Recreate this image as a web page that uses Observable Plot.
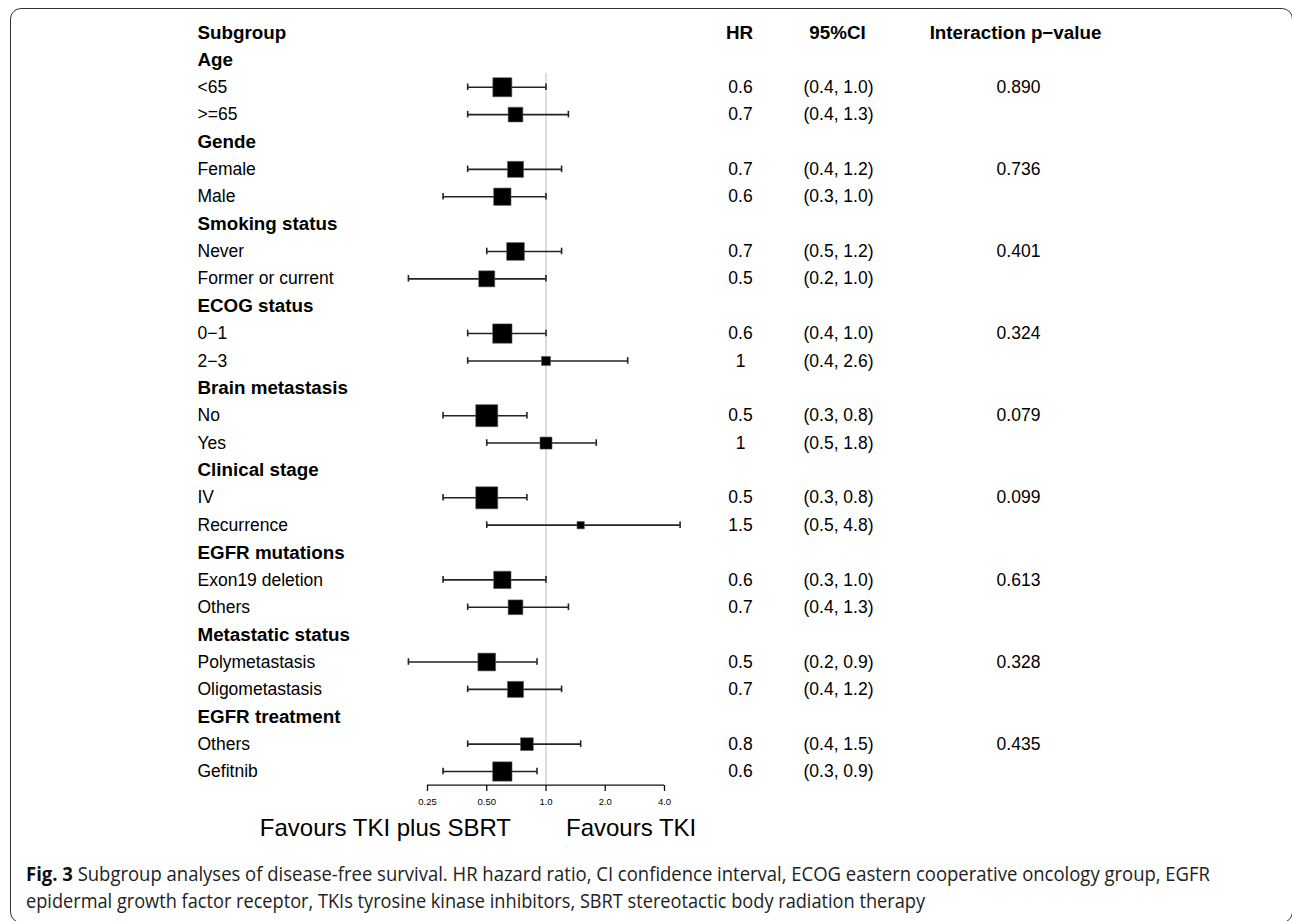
<!DOCTYPE html>
<html>
<head>
<meta charset="utf-8">
<script src="https://cdn.jsdelivr.net/npm/d3@7"></script>
<script src="https://cdn.jsdelivr.net/npm/@observablehq/plot@0.6"></script>
<style>
  html, body { margin: 0; padding: 0; background: #fff; }
  #page { position: relative; width: 1292px; height: 921px; overflow: hidden; background: #fff; }
  #chart { position: absolute; left: 0; top: 0; }
  #border { position: absolute; left: 10px; top: 8px; width: 1281px; height: 913px;
            border: 1.5px solid #333; border-radius: 11px; pointer-events: none; }
  #caption { position: absolute; left: 26px; top: 860px; font-family: "Open Sans", sans-serif;
             font-size: 20px; line-height: 27px; color: #222; }
  #caption .line { display: block; white-space: nowrap; transform-origin: 0 0; width: max-content; }
  #caption b { font-weight: 700; color: #111; }
</style>
</head>
<body>
<div id="page">
  <div id="chart"></div>
  <div id="border"></div>
  <div id="caption">
    <span class="line" id="cap1"><b>Fig. 3</b> Subgroup analyses of disease-free survival. HR hazard ratio, CI confidence interval, ECOG eastern cooperative oncology group, EGFR</span>
    <span class="line" id="cap2">epidermal growth factor receptor, TKIs tyrosine kinase inhibitors, SBRT stereotactic body radiation therapy</span>
  </div>
</div>
<script>
// ---- Data ----
const groups = ["Age", "Gende", "Smoking status", "ECOG status", "Brain metastasis",
                "Clinical stage", "EGFR mutations", "Metastatic status", "EGFR treatment"];
const groupSizes = [2, 2, 2, 2, 2, 2, 2, 2, 2];
const pValues = ["0.890", "0.736", "0.401", "0.324", "0.079", "0.099", "0.613", "0.328", "0.435"];

const subgroupLabels = ["<65", ">=65", "Female", "Male", "Never", "Former or current",
  "0\u22121", "2\u22123", "No", "Yes", "IV", "Recurrence", "Exon19 deletion", "Others",
  "Polymetastasis", "Oligometastasis", "Others", "Gefitnib"];
const hr    = [0.6, 0.7, 0.7, 0.6, 0.7, 0.5, 0.6, 1,   0.5, 1,   0.5, 1.5, 0.6, 0.7, 0.5, 0.7, 0.8, 0.6];
const lower = [0.4, 0.4, 0.4, 0.3, 0.5, 0.2, 0.4, 0.4, 0.3, 0.5, 0.3, 0.5, 0.3, 0.4, 0.2, 0.4, 0.4, 0.3];
const upper = [1.0, 1.3, 1.2, 1.0, 1.2, 1.0, 1.0, 2.6, 0.8, 1.8, 0.8, 4.8, 1.0, 1.3, 0.9, 1.2, 1.5, 0.9];
// relative weight of each subgroup (drives box size)
const weight = [19, 14.7, 16, 17.3, 17.7, 16, 19.3, 9, 22, 12, 22, 7.3, 17.3, 14.7, 17.7, 16, 12.7, 19.3];

const headers = ["Subgroup", "HR", "95%CI", "Interaction p\u2212value"];
const tickValues = [0.25, 0.5, 1, 2, 4];
const tickLabels = ["0.25", "0.50", "1.0", "2.0", "4.0"];
const favours = ["Favours TKI plus SBRT", "Favours TKI"];

// ---- Build table ----
const headingRows = [];
const subRows = [];
let row = 1, k = 0;
groups.forEach((g, gi) => {
  headingRows.push({row: row++, label: g});
  for (let j = 0; j < groupSizes[gi]; j++, k++) {
    subRows.push({
      row: row++, label: subgroupLabels[k], hr: hr[k], lo: lower[k], hi: upper[k],
      w: weight[k], hrText: String(hr[k]),
      ci: `(${lower[k].toFixed(1)}, ${upper[k].toFixed(1)})`,
      p: j === 0 ? pValues[gi] : ""
    });
  }
});
const lastRow = row - 1;           // 27
const axisRow = lastRow + 0.5;
const tickMap = new Map(tickValues.map((v, i) => [v, tickLabels[i]]));

const FONT = "'Liberation Sans', Arial, Helvetica, sans-serif";
const REG = 17.5, BOLD = 18.8;

const chart = Plot.plot({
  width: 1292, height: 850,
  marginLeft: 0, marginRight: 0, marginTop: 0, marginBottom: 65,
  x: {type: "log", base: 2, domain: [0.25, 4], range: [427, 664]},
  y: {domain: [0, lastRow], range: [32, 771], axis: null},
  r: {type: "linear", domain: [0, 22], range: [0, 22 / Math.sqrt(Math.PI)]},
  style: {fontFamily: FONT, background: "transparent", color: "#000"},
  marks: [
    // reference line at HR = 1
    Plot.ruleX([1], {y1: 1.5, y2: axisRow, stroke: "#c8c8c8", strokeWidth: 1.2}),
    // CI whiskers
    Plot.ruleY(subRows, {y: "row", x1: "lo", x2: "hi", stroke: "#222", strokeWidth: 1.6}),
    Plot.ruleX(subRows, {x: "lo", y1: d => d.row - 0.12, y2: d => d.row + 0.12, stroke: "#222", strokeWidth: 1.6}),
    Plot.ruleX(subRows, {x: "hi", y1: d => d.row - 0.12, y2: d => d.row + 0.12, stroke: "#222", strokeWidth: 1.6}),
    // boxes
    Plot.dot(subRows, {x: "hr", y: "row", r: "w", symbol: "square", fill: "#000", stroke: "#555", strokeWidth: 0.6}),
    // axis
    Plot.ruleY([axisRow], {x1: tickValues[0], x2: tickValues[tickValues.length - 1], stroke: "#111", strokeWidth: 1.3}),
    Plot.axisX({ticks: tickValues, tickFormat: d => tickMap.get(d), anchor: "bottom", label: null,
                tickSize: 6, tickPadding: 7, fontSize: 9.5, stroke: "#111", strokeWidth: 1.3}),
    // column headers
    Plot.text([headers[0]], {text: d => d, frameAnchor: "top-left", dx: 197, dy: 32, lineAnchor: "middle",
               textAnchor: "start", fontWeight: "bold", fontSize: BOLD}),
    Plot.text([headers[1]], {text: d => d, frameAnchor: "top-left", dx: 739, dy: 32, lineAnchor: "middle",
               textAnchor: "middle", fontWeight: "bold", fontSize: BOLD}),
    Plot.text([headers[2]], {text: d => d, frameAnchor: "top-left", dx: 837, dy: 32, lineAnchor: "middle",
               textAnchor: "middle", fontWeight: "bold", fontSize: BOLD}),
    Plot.text([headers[3]], {text: d => d, frameAnchor: "top-left", dx: 1015, dy: 32, lineAnchor: "middle",
               textAnchor: "middle", fontWeight: "bold", fontSize: BOLD}),
    // group headings
    Plot.text(headingRows, {y: "row", text: "label", frameAnchor: "left", dx: 197, textAnchor: "start",
               fontWeight: "bold", fontSize: BOLD}),
    // subgroup labels and values
    Plot.text(subRows, {y: "row", text: "label", frameAnchor: "left", dx: 197, textAnchor: "start", fontSize: REG}),
    Plot.text(subRows, {y: "row", text: "hrText", frameAnchor: "left", dx: 740, textAnchor: "middle", fontSize: REG}),
    Plot.text(subRows, {y: "row", text: "ci", frameAnchor: "left", dx: 838, textAnchor: "middle", fontSize: REG}),
    Plot.text(subRows, {y: "row", text: "p", frameAnchor: "left", dx: 1018, textAnchor: "middle", fontSize: REG}),
    // favours labels
    Plot.text([favours[0]], {x: () => 1, text: d => d, frameAnchor: "bottom", dy: 50, dx: -35,
               textAnchor: "end", fontSize: 24}),
    Plot.text([favours[1]], {x: () => 1, text: d => d, frameAnchor: "bottom", dy: 50, dx: 20,
               textAnchor: "start", fontSize: 24})
  ]
});
document.getElementById("chart").appendChild(chart);

// fit caption lines to the reference widths (condensed caption face)
function fit(id, target) {
  const el = document.getElementById(id);
  const w = el.getBoundingClientRect().width;
  if (w > 0) el.style.transform = `scaleX(${target / w})`;
}
fit("cap1", 1184);
fit("cap2", 899);
</script>
</body>
</html>
